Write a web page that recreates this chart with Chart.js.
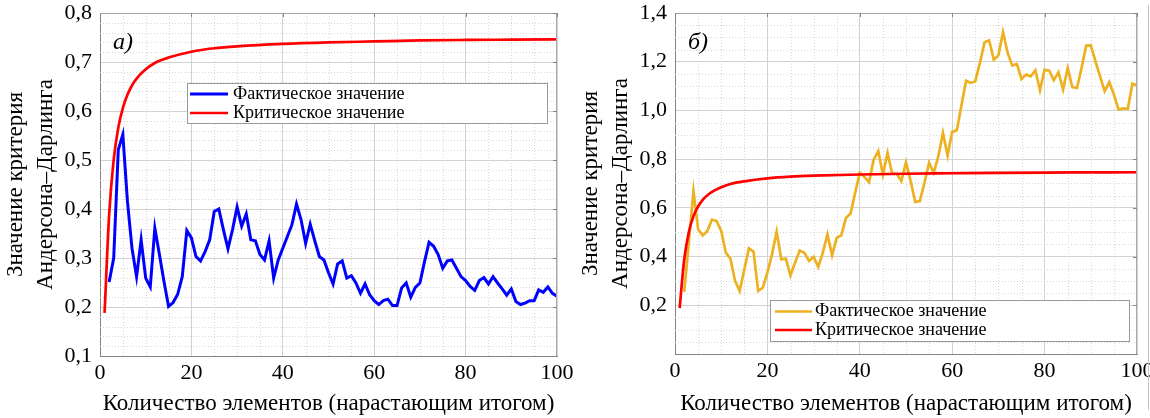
<!DOCTYPE html>
<html lang="ru">
<head>
<meta charset="utf-8">
<title>Критерий Андерсона–Дарлинга</title>
<script src="https://cdn.jsdelivr.net/npm/chart.js@4.4.1/dist/chart.umd.min.js"></script>
<style>
  html, body { margin: 0; padding: 0; background: #fff; }
  #wrap { position: relative; width: 1150px; height: 418px; overflow: hidden; }
  .panel { position: absolute; top: 0; width: 575px; height: 418px; }
  #panelA { left: 0; }
  #panelB { left: 575px; }
  #edge { position: absolute; left: 1148px; top: 5px; width: 0; height: 405px; border-left: 1px solid #c4c4c4; }
</style>
</head>
<body>
<div id="wrap">
  <div class="panel" id="panelA"><canvas id="chartA" width="575" height="418"></canvas></div>
  <div class="panel" id="panelB"><canvas id="chartB" width="575" height="418"></canvas></div>
  <div id="edge"></div>
</div>
<script>
(function() {
    'use strict';

    // --- data ---
    const LABEL_FACT = 'Фактическое значение';
    const LABEL_CRIT = 'Критическое значение';
    const X_TITLE = 'Количество элементов (нарастающим итогом)';
    const Y_TITLE = ['Значение критерия', 'Андерсона–Дарлинга'];

    // first element count of the "fact" series (n = 2 .. 100)
    const FIRST_N = 2;

    // panel a) – blue
    const factA = [
        0.251, 0.300, 0.521, 0.552, 0.416, 0.320, 0.262, 0.337, 0.259, 0.241,
        0.361, 0.307, 0.252, 0.201, 0.209, 0.226, 0.262, 0.356, 0.341, 0.303,
        0.294, 0.313, 0.337, 0.395, 0.400, 0.358, 0.319, 0.358, 0.404, 0.365,
        0.390, 0.337, 0.335, 0.307, 0.296, 0.335, 0.259, 0.296, 0.320, 0.344,
        0.368, 0.410, 0.378, 0.330, 0.369, 0.335, 0.303, 0.296, 0.270, 0.247,
        0.288, 0.294, 0.259, 0.264, 0.249, 0.228, 0.247, 0.225, 0.213, 0.205,
        0.213, 0.216, 0.203, 0.203, 0.239, 0.249, 0.220, 0.240, 0.249, 0.292,
        0.332, 0.324, 0.307, 0.279, 0.294, 0.296, 0.279, 0.262, 0.254, 0.242,
        0.234, 0.254, 0.260, 0.247, 0.262, 0.249, 0.237, 0.224, 0.237, 0.211,
        0.205, 0.208, 0.213, 0.213, 0.235, 0.230, 0.241, 0.228, 0.222
    ];

    // panel б) – orange
    const factB = [
        0.255, 0.460, 0.669, 0.512, 0.487, 0.505, 0.552, 0.546, 0.505, 0.416,
        0.391, 0.300, 0.259, 0.347, 0.434, 0.420, 0.259, 0.272, 0.334, 0.409,
        0.502, 0.389, 0.391, 0.323, 0.375, 0.425, 0.416, 0.382, 0.399, 0.358,
        0.416, 0.491, 0.405, 0.477, 0.487, 0.559, 0.577, 0.662, 0.744, 0.727,
        0.706, 0.798, 0.833, 0.737, 0.826, 0.740, 0.740, 0.710, 0.787, 0.710,
        0.624, 0.628, 0.703, 0.785, 0.744, 0.812, 0.908, 0.815, 0.912, 0.919,
        1.020, 1.122, 1.113, 1.120, 1.195, 1.280, 1.288, 1.208, 1.226, 1.322,
        1.236, 1.184, 1.191, 1.129, 1.147, 1.140, 1.165, 1.083, 1.167, 1.163,
        1.124, 1.157, 1.086, 1.174, 1.096, 1.092, 1.174, 1.266, 1.267, 1.202,
        1.140, 1.079, 1.116, 1.065, 1.004, 1.008, 1.006, 1.110, 1.102
    ];

    // critical value curve (same on both panels)
    const critN = [1, 2, 3, 4, 5, 6, 7, 8, 10, 12, 15, 20, 25, 30, 40, 50, 60, 70, 80, 90, 100];
    const critVal = [0.188, 0.388, 0.501, 0.566, 0.606, 0.633, 0.652, 0.666, 0.685, 0.698, 0.709,
                     0.721, 0.728, 0.732, 0.737, 0.740, 0.742, 0.744, 0.745, 0.7456, 0.7462];

    const xTicks = [0, 20, 40, 60, 80, 100];

    // --- styling ---
    const SERIF = '"Liberation Serif", "Times New Roman", serif';
    const GRID = '#d2d2d2';
    const MINOR = '#d6d6d6';
    const AXIS = '#858585';
    const FRAME = '#a8a8a8';

    Chart.defaults.font.family = SERIF;
    Chart.defaults.color = '#000';

    function commaTick(v) {
        return Number(v).toFixed(1).replace('.', ',');
    }

    const minorGrid = {
        id: 'minorGrid',
        beforeDatasetsDraw(chart, args, o) {
            const { ctx, chartArea: a, scales: { x, y } } = chart;
            ctx.save();
            ctx.strokeStyle = o.color;
            ctx.lineWidth = 1;
            ctx.setLineDash([1, 2]);
            ctx.beginPath();
            const nx = Math.round((x.max - x.min) / o.xStep);
            for (let i = 1; i < nx; i++) {
                if (i % o.xPer === 0) continue;
                const px = Math.round(x.getPixelForValue(x.min + i * o.xStep)) + 0.5;
                ctx.moveTo(px, a.top);
                ctx.lineTo(px, a.bottom);
            }
            const ny = Math.round((y.max - y.min) / o.yStep);
            for (let i = 1; i < ny; i++) {
                if (i % o.yPer === 0) continue;
                const py = Math.round(y.getPixelForValue(y.min + i * o.yStep)) + 0.5;
                ctx.moveTo(a.left, py);
                ctx.lineTo(a.right, py);
            }
            ctx.stroke();
            ctx.restore();
        }
    };

    const boxFrame = {
        id: 'boxFrame',
        afterDatasetsDraw(chart, args, o) {
            const { ctx, chartArea: a, scales: { x, y } } = chart;
            ctx.save();
            ctx.strokeStyle = o.color;
            ctx.lineWidth = 1;
            ctx.beginPath();
            ctx.moveTo(a.left, a.top + 0.5);
            ctx.lineTo(a.right, a.top + 0.5);
            ctx.moveTo(a.right - 0.5, a.top);
            ctx.lineTo(a.right - 0.5, a.bottom);
            ctx.stroke();
            ctx.strokeStyle = AXIS;
            ctx.beginPath();
            x.ticks.forEach(function(t) {
                const px = Math.round(x.getPixelForValue(t.value)) + 0.5;
                ctx.moveTo(px, a.top);
                ctx.lineTo(px, a.top + o.tick);
            });
            y.ticks.forEach(function(t) {
                const py = Math.round(y.getPixelForValue(t.value)) + 0.5;
                ctx.moveTo(a.right, py);
                ctx.lineTo(a.right - o.tick, py);
            });
            ctx.stroke();
            ctx.restore();
        }
    };

    const boxLegend = {
        id: 'boxLegend',
        afterDraw(chart, args, o) {
            const ctx = chart.ctx;
            ctx.save();
            ctx.fillStyle = '#fff';
            ctx.fillRect(o.x, o.y, o.w, o.h);
            ctx.strokeStyle = '#9a9a9a';
            ctx.lineWidth = 1;
            ctx.strokeRect(o.x + 0.5, o.y + 0.5, o.w - 1, o.h - 1);
            ctx.font = o.size + 'px ' + SERIF;
            ctx.textBaseline = 'middle';
            chart.data.datasets.forEach(function(ds, i) {
                const ry = o.row0 + i * o.dy;
                ctx.strokeStyle = ds.borderColor;
                ctx.lineWidth = ds.borderWidth;
                ctx.beginPath();
                ctx.moveTo(o.x + o.lineFrom, ry);
                ctx.lineTo(o.x + o.lineTo, ry);
                ctx.stroke();
                ctx.fillStyle = '#000';
                ctx.fillText(ds.label, o.x + o.textAt, ry);
            });
            ctx.restore();
        }
    };

    const panelTag = {
        id: 'panelTag',
        afterDraw(chart, args, o) {
            const ctx = chart.ctx;
            ctx.save();
            ctx.font = 'italic ' + o.size + 'px ' + SERIF;
            ctx.fillStyle = '#000';
            ctx.textAlign = 'center';
            ctx.textBaseline = 'middle';
            ctx.fillText(o.text, o.x, o.y);
            ctx.restore();
        }
    };

    function makePanel(canvasId, cfg) {
        const fact = cfg.fact.map(function(v, i) { return { x: FIRST_N + i, y: v }; });
        const crit = critN.map(function(n, i) { return { x: n, y: critVal[i] }; });

        return new Chart(document.getElementById(canvasId), {
            type: 'line',
            data: {
                datasets: [{
                    label: LABEL_FACT,
                    data: fact,
                    borderColor: cfg.factColor,
                    borderWidth: cfg.factWidth,
                    pointRadius: 0,
                    tension: 0,
                    order: 1
                }, {
                    label: LABEL_CRIT,
                    data: crit,
                    borderColor: '#ff0000',
                    borderWidth: 2.7,
                    pointRadius: 0,
                    cubicInterpolationMode: 'monotone',
                    order: 0
                }]
            },
            plugins: [minorGrid, boxFrame, boxLegend, panelTag],
            options: {
                responsive: false,
                animation: false,
                layout: { padding: cfg.padding },
                plugins: {
                    legend: { display: false },
                    tooltip: { enabled: false },
                    minorGrid: Object.assign({ color: MINOR }, cfg.minor),
                    boxFrame: { color: FRAME, tick: 4 },
                    boxLegend: cfg.legend,
                    panelTag: { text: cfg.tag, x: 123, y: 43, size: 24 }
                },
                scales: {
                    x: {
                        type: 'linear',
                        min: 0,
                        max: 100,
                        afterBuildTicks: function(s) {
                            s.ticks = xTicks.map(function(v) { return { value: v }; });
                        },
                        ticks: {
                            padding: 4,
                            maxRotation: 0,
                            autoSkip: false,
                            font: { size: 22 },
                            color: '#000'
                        },
                        grid: { color: GRID, drawTicks: false },
                        border: { color: AXIS },
                        title: {
                            display: true,
                            text: X_TITLE,
                            font: { size: 23 },
                            color: '#000',
                            padding: { top: 0, bottom: 0 }
                        },
                        afterFit: function(s) {
                            s.height = cfg.xAxisHeight;
                            s.paddingLeft = 0;
                            s.paddingRight = 0;
                        }
                    },
                    y: {
                        min: cfg.yMin,
                        max: cfg.yMax,
                        ticks: {
                            stepSize: cfg.yStep,
                            padding: 8,
                            font: { size: 22 },
                            color: '#000',
                            callback: function(v) {
                                return cfg.hideZero && Math.abs(v) < 1e-9 ? '' : commaTick(v);
                            }
                        },
                        grid: { color: GRID, drawTicks: false },
                        border: { color: AXIS },
                        title: {
                            display: true,
                            text: Y_TITLE,
                            font: { size: 23, lineHeight: 1.3 },
                            color: '#000',
                            padding: { top: 1, bottom: 0 }
                        },
                        afterFit: function(s) {
                            s.width = 100;
                            s.paddingTop = 0;
                            s.paddingBottom = 0;
                        }
                    }
                }
            }
        });
    }

    document.addEventListener('DOMContentLoaded', function() {
        makePanel('chartA', {
            fact: factA,
            factColor: '#0000ff',
            factWidth: 3,
            tag: 'а)',
            yMin: 0.1, yMax: 0.8, yStep: 0.1,
            hideZero: false,
            padding: { top: 13, right: 18, bottom: 0, left: 0 },
            xAxisHeight: 62,
            minor: { xStep: 5, xPer: 4, yStep: 0.02, yPer: 5 },
            legend: { x: 187, y: 83, w: 361, h: 41, row0: 94, dy: 19,
                      lineFrom: 3, lineTo: 41, textAt: 46, size: 18 }
        });
        makePanel('chartB', {
            fact: factB,
            factColor: '#edb120',
            factWidth: 2.7,
            tag: 'б)',
            yMin: 0, yMax: 1.4, yStep: 0.2,
            hideZero: true,
            padding: { top: 13, right: 13, bottom: 0, left: 0 },
            xAxisHeight: 64,
            minor: { xStep: 5, xPer: 4, yStep: 0.05, yPer: 4 },
            legend: { x: 195, y: 300, w: 360, h: 42, row0: 311.5, dy: 18.5,
                      lineFrom: 5, lineTo: 42, textAt: 45, size: 18 }
        });
    });
})();
</script>
</body>
</html>
